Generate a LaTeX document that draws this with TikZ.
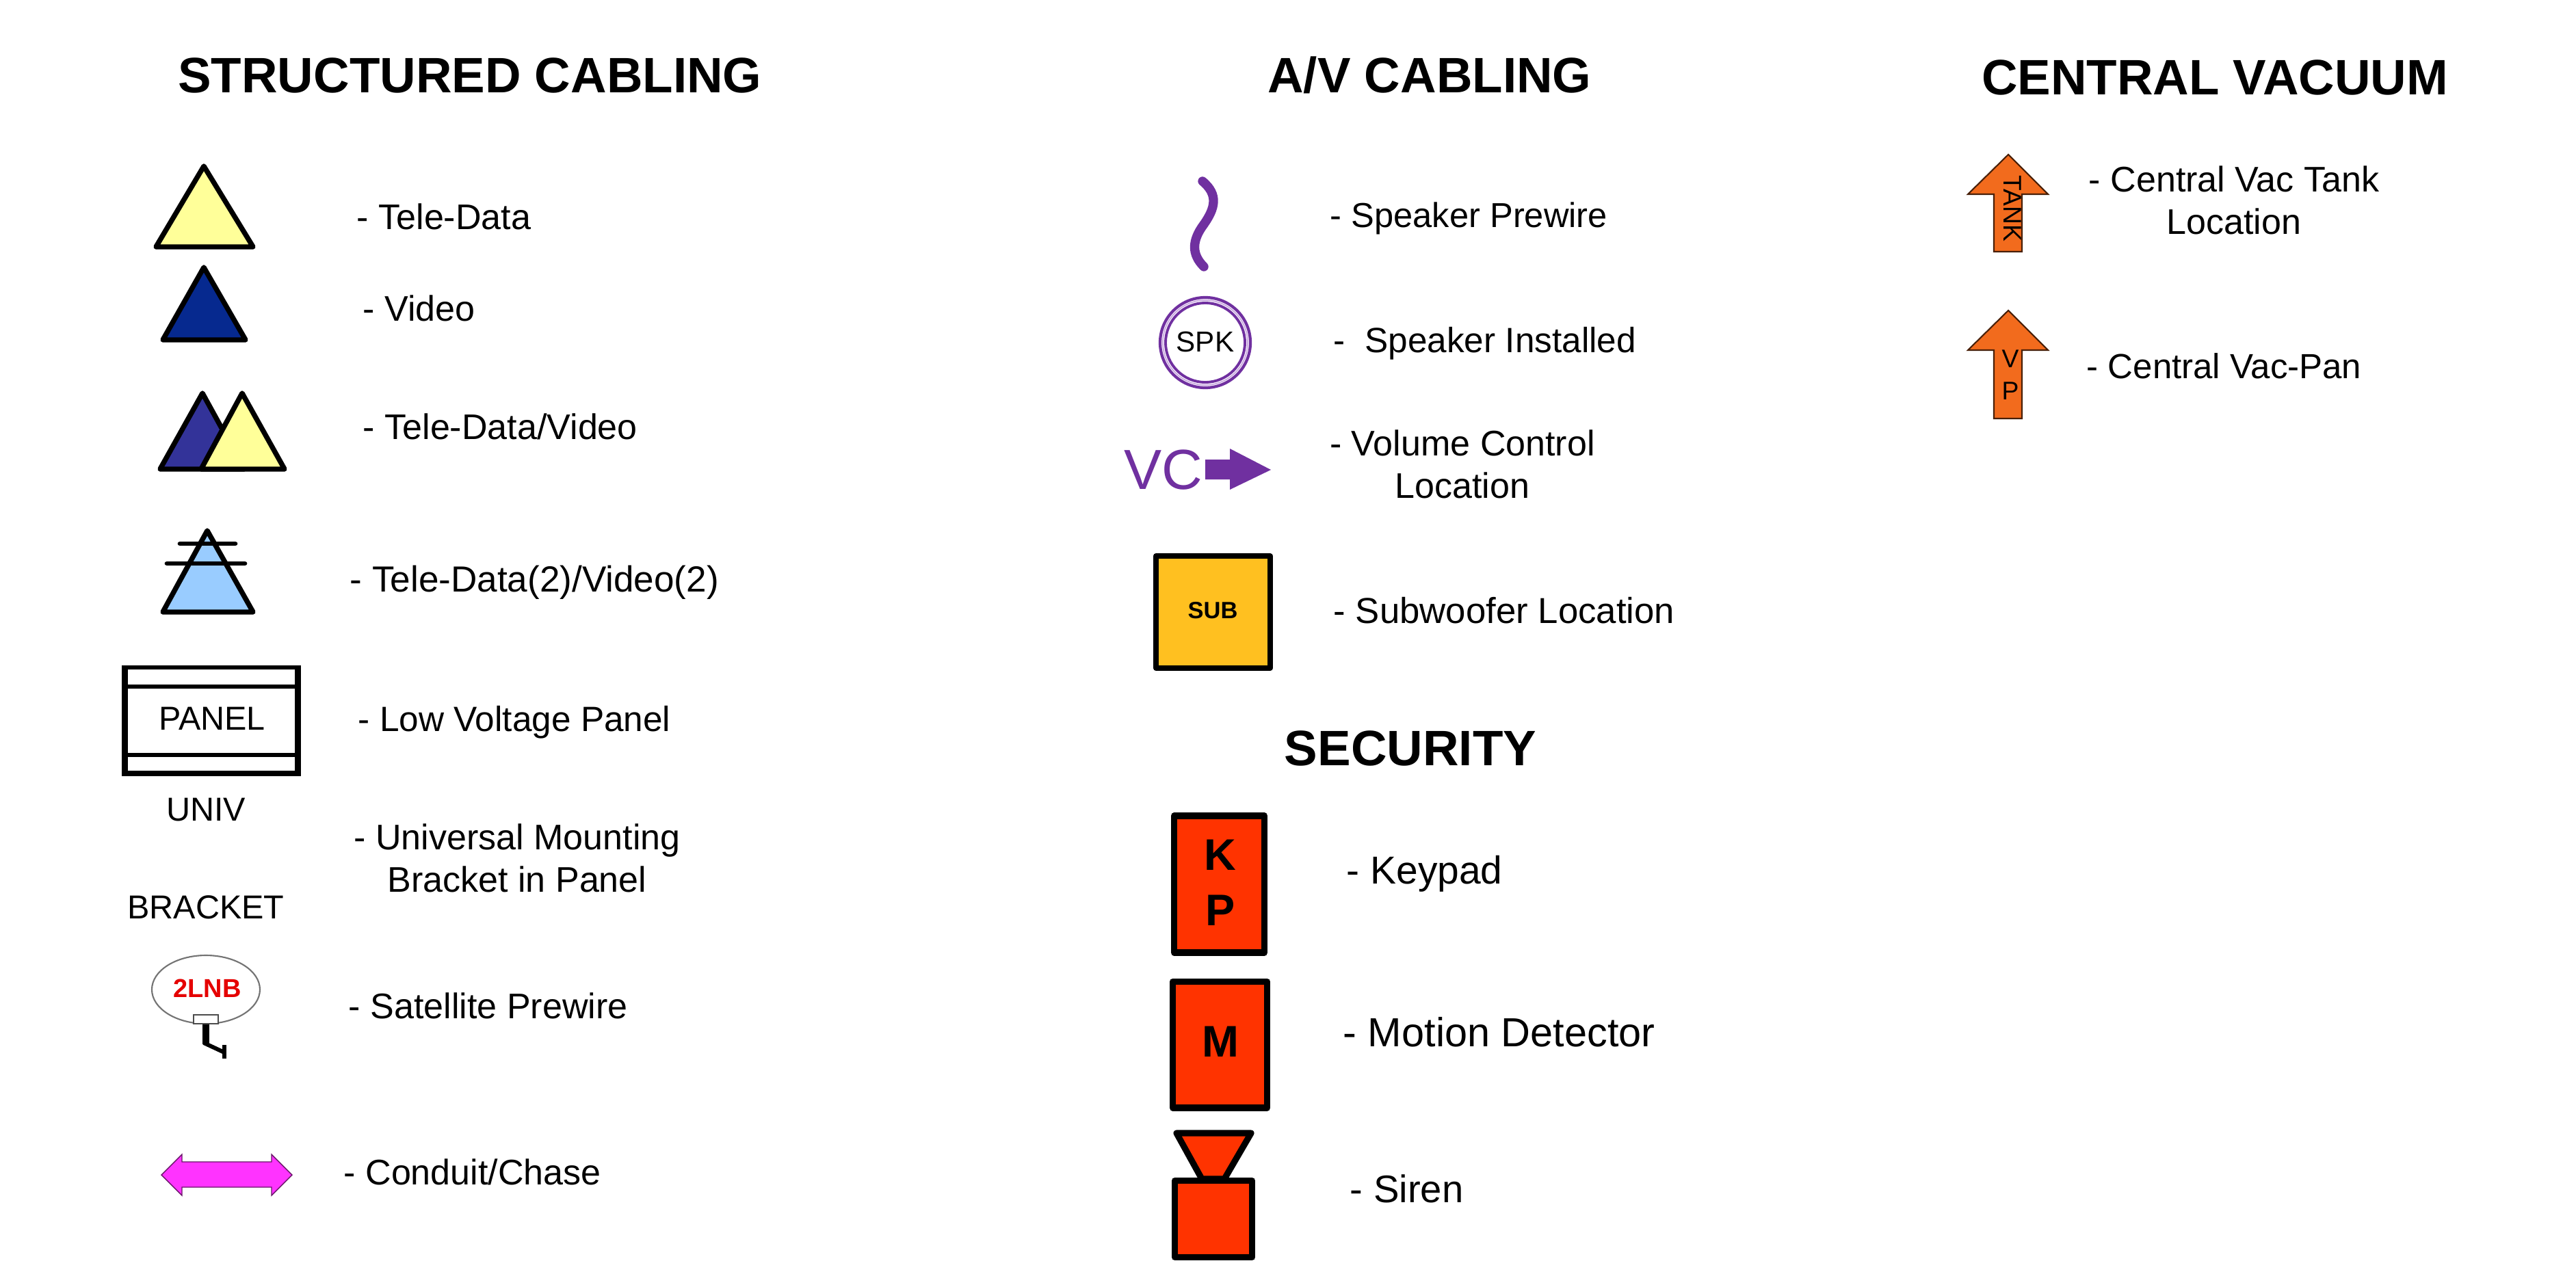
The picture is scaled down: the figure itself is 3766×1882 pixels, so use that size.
\documentclass[tikz,border=0pt]{standalone}
\usepackage{fontspec}
\setmainfont{Liberation Sans}
\definecolor{tyellow}{HTML}{FFFF99}
\definecolor{tnavy}{HTML}{06298F}
\definecolor{tindigo}{HTML}{333399}
\definecolor{tsky}{HTML}{99CCFF}
\definecolor{tmag}{HTML}{FF33FF}
\definecolor{tpurple}{HTML}{7030A0}
\definecolor{tlilac}{HTML}{C9A8E0}
\definecolor{tgold}{HTML}{FFC020}
\definecolor{tred}{HTML}{FF3300}
\definecolor{torange}{HTML}{F26B1D}
\newcommand{\fs}[1]{\fontsize{#1}{#1}\selectfont}
\tikzset{
  x=0.01cm,y=-0.01cm,
  tri/.style={draw=black,line width=2.1pt,line join=round,line cap=round},
  titletext/.style={font=\fs{20.7}\bfseries,inner sep=0pt},
  lab/.style={font=\fs{14.8},anchor=west,inner sep=0pt,text height=10.6pt,text depth=0pt},
  labc/.style={font=\fs{14.8},align=center,inner sep=0pt},
  labbig/.style={font=\fs{16.2},anchor=west,inner sep=0pt,text height=11.6pt,text depth=0pt},
  symtext/.style={font=\fs{13.8},inner sep=0pt},
  boxred/.style={draw=black,line width=2.6pt,fill=tred,line join=round},
  vac/.style={draw=black!70!torange,line width=0.6pt,fill=torange,line join=miter},
}
\begin{document}
\begin{tikzpicture}
\useasboundingbox (0,0) rectangle (3766,1882);
\fill[white] (0,0) rectangle (3766,1882);
% titles
\node[titletext] (t1) at (687,110) {STRUCTURED CABLING};
\node[titletext] (t2) at (2090,110) {A/V CABLING};
\node[titletext] (t3) at (2062,1094) {SECURITY};
\node[titletext] (t4) at (3238,113) {CENTRAL VACUUM};
% structured cabling symbols
\draw[tri,fill=tyellow] (298,243) -- (370,361) -- (228,361) -- cycle;
\draw[tri,fill=tnavy] (298,391) -- (359,497) -- (238,497) -- cycle;
\draw[tri,fill=tindigo] (296,575) -- (357,686) -- (234,686) -- cycle;
\draw[tri,fill=tyellow] (354,575) -- (416,686) -- (294,686) -- cycle;
\draw[tri,fill=tsky] (303,776) -- (370,895) -- (238,895) -- cycle;
\draw[tri,line width=1.9pt] (263,795) -- (344,795);
\draw[tri,line width=1.9pt] (244,824) -- (358,824);
% panel
\draw[draw=black,line width=1.6pt,fill=white] (182,976) rectangle (436,1130);
\draw[black,line width=2.4pt] (182.5,973) -- (182.5,1135) (435.5,973) -- (435.5,1135) (178,1131) -- (440,1131);
\draw[black,line width=1.6pt] (183,1004) -- (435,1004) (183,1104) -- (435,1104);
\node[symtext,text height=10pt,text depth=0pt] (panel) at (310,1050) {PANEL};
\node[symtext] (univ) at (301,1184) {UNIV};
\node[symtext] (bracket) at (301,1327) {BRACKET};
% satellite
\draw[draw=black!55,line width=0.6pt] (301,1447) ellipse (79 and 50);
\node[font=\fs{10.8}\bfseries,text=red!90!black,inner sep=0pt] (lnb) at (303,1445) {2LNB};
\draw[black,line width=3pt] (301,1496) -- (301,1527);
\draw[black,line width=1.7pt] (298,1525) -- (328,1539);
\draw[black,line width=1.7pt] (328,1528) -- (328,1548);
\draw[draw=black!70,line width=0.7pt,fill=white] (283,1484) rectangle (319,1497);
% conduit
\draw[draw=black!60!tmag,line width=0.4pt,fill=tmag] (236,1718) -- (266,1688) -- (266,1699) -- (397,1699) -- (397,1688) -- (427,1718) -- (397,1748) -- (397,1736) -- (266,1736) -- (266,1748) -- cycle;
% labels left
\node[lab] (l1) at (521,317) {- Tele-Data};
\node[lab] (l2) at (530,451) {- Video};
\node[lab] (l3) at (530,624) {- Tele-Data/Video};
\node[lab,font=\fs{15.1}] (l4) at (511,847) {- Tele-Data(2)/Video(2)};
\node[lab,font=\fs{14.6}] (l5) at (523,1051) {- Low Voltage Panel};
\node[labc] (l6) at (756,1255) {- Universal Mounting\\[3pt]Bracket in Panel};
\node[lab] (l7) at (509,1471) {- Satellite Prewire};
\node[lab] (l8) at (502,1714) {- Conduit/Chase};
% A/V symbols
\draw[tpurple,line width=3.8pt,line cap=round] (1758,265) .. controls (1782,285) and (1776,305) .. (1760,328) .. controls (1742,352) and (1742,372) .. (1760,390);
\draw[tpurple,line width=1.2pt] (1762,501) circle (66);
\draw[tlilac,line width=0.5pt] (1762,501) circle (62);
\draw[tpurple,line width=1.1pt] (1762,501) circle (58);
\node[font=\fs{12},inner sep=0pt] (spk) at (1762,500) {SPK};
\node[font=\fs{23.5},text=tpurple,inner sep=0pt] (vc) at (1701,687) {VC};
\fill[tpurple] (1762,672) -- (1798,672) -- (1798,656) -- (1858,687) -- (1798,716) -- (1798,701) -- (1762,701) -- cycle;
\draw[draw=black,line width=2.2pt,fill=tgold,line join=round] (1690,813) rectangle (1857,977);
\node[font=\fs{9.8}\bfseries,inner sep=0pt] (sub) at (1773,893) {SUB};
% A/V labels
\node[lab,font=\fs{14.4}] (a1) at (1944,314) {- Speaker Prewire};
\node[lab,font=\fs{14.6}] (a2) at (1949,497) {-\ \ Speaker Installed};
\node[labc] (a3) at (2138,679) {- Volume Control\\[3pt]Location};
\node[lab,font=\fs{15}] (a4) at (1949,893) {- Subwoofer Location};
% security
\draw[boxred] (1716.5,1193) rectangle (1848.5,1393);
\node[font=\fs{18.4}\bfseries,inner sep=0pt] (k) at (1784,1250) {K};
\node[font=\fs{18.4}\bfseries,inner sep=0pt] (p) at (1784,1331) {P};
\draw[boxred] (1714.5,1435.5) rectangle (1852.5,1620);
\node[font=\fs{18.4}\bfseries,inner sep=0pt] (m) at (1784,1523) {M};
\draw[boxred] (1720,1657) -- (1829,1657) -- (1790,1724) -- (1757,1724) -- cycle;
\draw[boxred] (1717.5,1726.5) rectangle (1830.5,1838.5);
\node[labbig] (s1) at (1968,1272) {- Keypad};
\node[labbig,font=\fs{16.9}] (s2) at (1963,1510) {- Motion Detector};
\node[labbig,font=\fs{16}] (s3) at (1973,1738) {- Siren};
% central vacuum
\draw[vac] (2936,226) -- (2994,284) -- (2956,284) -- (2956,368) -- (2915,368) -- (2915,284) -- (2877,284) -- cycle;
\node[font=\fs{10.6},rotate=-90,inner sep=0pt] (tank) at (2942,305) {TANK};
\draw[vac] (2936,454) -- (2994,512) -- (2956,512) -- (2956,612) -- (2915,612) -- (2915,512) -- (2877,512) -- cycle;
\node[font=\fs{10.6},inner sep=0pt] (v) at (2939,525) {V};
\node[font=\fs{10.6},inner sep=0pt] (vp) at (2939,572) {P};
\node[labc] (c1) at (3266,293) {- Central Vac Tank\\[3pt]Location};
\node[lab,font=\fs{14.5}] (c2) at (3050,535) {- Central Vac-Pan};
\end{tikzpicture}
\end{document}
